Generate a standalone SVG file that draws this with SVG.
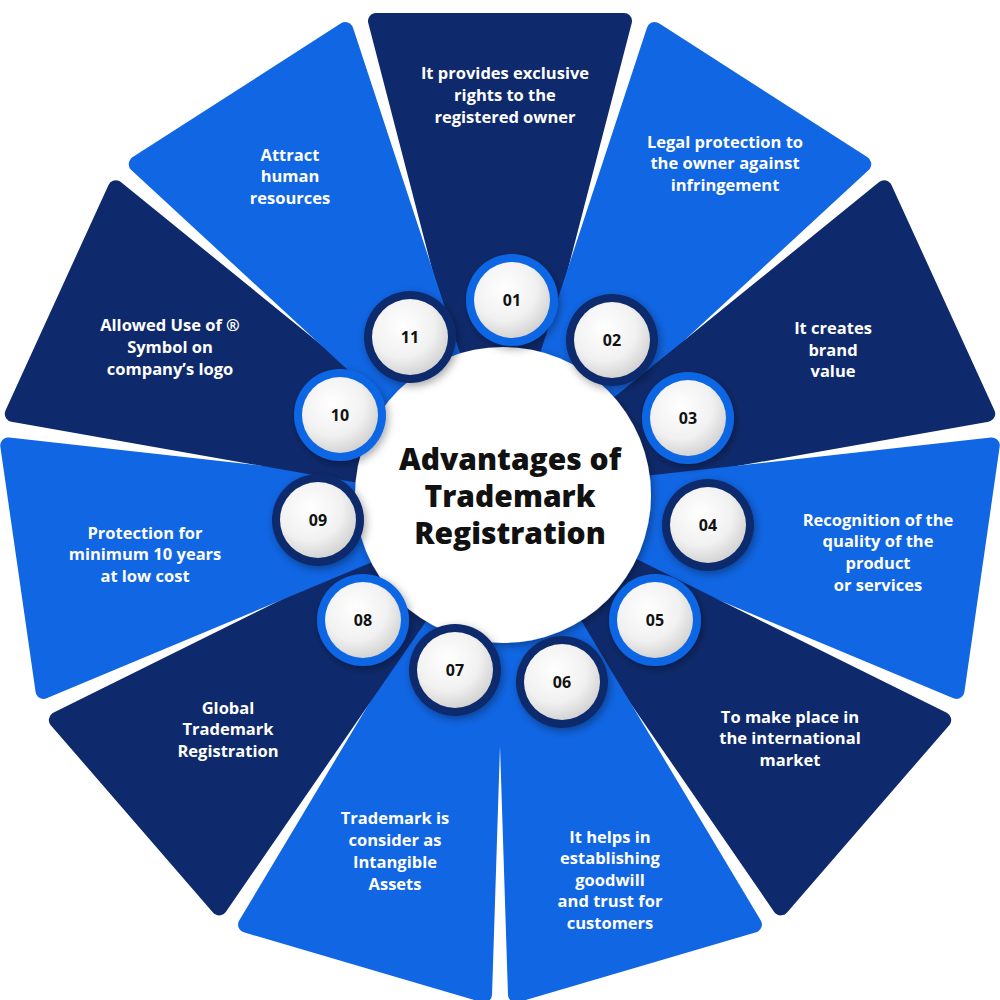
<svg xmlns="http://www.w3.org/2000/svg" xmlns:xlink="http://www.w3.org/1999/xlink" width="1000" height="1000" viewBox="0 0 1000 1000">
<style>
.d{fill:#0f2a6c;stroke:#0f2a6c}
.b{fill:#1166e4;stroke:#1166e4}
.seg{stroke-width:16;stroke-linejoin:round}
.t{font-family:"Open Sans","Liberation Sans",sans-serif;font-weight:700;font-size:16.5px;fill:#fff;text-anchor:middle}
.n{font-family:"Open Sans","Liberation Sans",sans-serif;font-weight:700;font-size:16px;fill:#111;text-anchor:middle;dominant-baseline:central}
.c{font-family:"Open Sans","Liberation Sans",sans-serif;font-weight:800;font-size:30px;fill:#111;text-anchor:middle}
.rd{fill:#0f2a6c}.rb{fill:#1166e4}
.in{fill:url(#g)}
</style>
<defs>
<path id="s" d="M-25,-97 L-124,-479 L124,-479 L25,-97 Z"/>
<radialGradient id="g" cx="0.4" cy="0.35" r="0.7"><stop offset="0" stop-color="#ffffff"/><stop offset="0.6" stop-color="#f1f1f1"/><stop offset="1" stop-color="#cfcfcf"/></radialGradient>
<filter id="sh" x="-30%" y="-30%" width="160%" height="160%"><feDropShadow dx="2" dy="3" stdDeviation="4" flood-color="#000" flood-opacity="0.35"/></filter>
<g id="k"><circle r="46" filter="url(#sh)"/></g>
</defs>
<g id="seg01"><use xlink:href="#s" class="d seg" transform="translate(500,500) rotate(0)"/><text class="t"><tspan x="505" y="79">It provides exclusive</tspan><tspan x="505" y="101">rights to the</tspan><tspan x="505" y="123">registered owner</tspan></text></g>
<g id="seg02"><use xlink:href="#s" class="b seg" transform="translate(500,500) rotate(32.727)"/><text class="t"><tspan x="725" y="148">Legal protection to</tspan><tspan x="725" y="169">the owner against</tspan><tspan x="725" y="191">infringement</tspan></text></g>
<g id="seg03"><use xlink:href="#s" class="d seg" transform="translate(500,500) rotate(65.454)"/><text class="t"><tspan x="833" y="334">It creates</tspan><tspan x="833" y="356">brand</tspan><tspan x="833" y="377">value</tspan></text></g>
<g id="seg04"><use xlink:href="#s" class="b seg" transform="translate(500,500) rotate(98.181)"/><text class="t"><tspan x="878" y="526">Recognition of the</tspan><tspan x="878" y="547">quality of the</tspan><tspan x="878" y="569">product</tspan><tspan x="878" y="591">or services</tspan></text></g>
<g id="seg05"><use xlink:href="#s" class="d seg" transform="translate(500,500) rotate(130.909)"/><text class="t"><tspan x="790" y="723">To make place in</tspan><tspan x="790" y="744">the international</tspan><tspan x="790" y="766">market</tspan></text></g>
<g id="seg06"><use xlink:href="#s" class="b seg" transform="translate(500,500) rotate(163.636)"/><text class="t"><tspan x="610" y="843">It helps in</tspan><tspan x="610" y="864">establishing</tspan><tspan x="610" y="886">goodwill</tspan><tspan x="610" y="907">and trust for</tspan><tspan x="610" y="929">customers</tspan></text></g>
<g id="seg07"><use xlink:href="#s" class="b seg" transform="translate(500,500) rotate(196.363)"/><text class="t"><tspan x="395" y="824">Trademark is</tspan><tspan x="395" y="846">consider as</tspan><tspan x="395" y="868">Intangible</tspan><tspan x="395" y="890">Assets</tspan></text></g>
<g id="seg08"><use xlink:href="#s" class="d seg" transform="translate(500,500) rotate(229.090)"/><text class="t"><tspan x="228" y="714">Global</tspan><tspan x="228" y="735">Trademark</tspan><tspan x="228" y="757">Registration</tspan></text></g>
<g id="seg09"><use xlink:href="#s" class="b seg" transform="translate(500,500) rotate(261.818)"/><text class="t"><tspan x="145" y="539">Protection for</tspan><tspan x="145" y="560">minimum 10 years</tspan><tspan x="145" y="582">at low cost</tspan></text></g>
<g id="seg10"><use xlink:href="#s" class="d seg" transform="translate(500,500) rotate(294.545)"/><text class="t"><tspan x="170" y="331">Allowed Use of ®</tspan><tspan x="170" y="353">Symbol on</tspan><tspan x="170" y="375">company’s logo</tspan></text></g>
<g id="seg11"><use xlink:href="#s" class="b seg" transform="translate(500,500) rotate(327.272)"/><text class="t"><tspan x="290" y="161">Attract</tspan><tspan x="290" y="182">human</tspan><tspan x="290" y="204">resources</tspan></text></g>
<g id="center"><circle cx="503" cy="495" r="148" fill="#fff" filter="url(#sh)"/><text class="c"><tspan x="510" y="470">Advantages of</tspan><tspan x="510" y="507">Trademark</tspan><tspan x="510" y="544">Registration</tspan></text></g>
<g id="n11"><use xlink:href="#k" class="rd" x="410" y="337"/><circle class="in" cx="410" cy="337" r="38"/><text class="n" x="410" y="337">11</text></g>
<g id="n10"><use xlink:href="#k" class="rb" x="340" y="415"/><circle class="in" cx="340" cy="415" r="38"/><text class="n" x="340" y="415">10</text></g>
<g id="n09"><use xlink:href="#k" class="rd" x="318" y="520"/><circle class="in" cx="318" cy="520" r="38"/><text class="n" x="318" y="520">09</text></g>
<g id="n08"><use xlink:href="#k" class="rb" x="363" y="620"/><circle class="in" cx="363" cy="620" r="38"/><text class="n" x="363" y="620">08</text></g>
<g id="n07"><use xlink:href="#k" class="rd" x="455" y="670"/><circle class="in" cx="455" cy="670" r="38"/><text class="n" x="455" y="670">07</text></g>
<g id="n06"><use xlink:href="#k" class="rd" x="562" y="682"/><circle class="in" cx="562" cy="682" r="38"/><text class="n" x="562" y="682">06</text></g>
<g id="n05"><use xlink:href="#k" class="rb" x="655" y="620"/><circle class="in" cx="655" cy="620" r="38"/><text class="n" x="655" y="620">05</text></g>
<g id="n04"><use xlink:href="#k" class="rd" x="708" y="525"/><circle class="in" cx="708" cy="525" r="38"/><text class="n" x="708" y="525">04</text></g>
<g id="n03"><use xlink:href="#k" class="rb" x="688" y="418"/><circle class="in" cx="688" cy="418" r="38"/><text class="n" x="688" y="418">03</text></g>
<g id="n02"><use xlink:href="#k" class="rd" x="612" y="340"/><circle class="in" cx="612" cy="340" r="38"/><text class="n" x="612" y="340">02</text></g>
<g id="n01"><use xlink:href="#k" class="rb" x="512" y="300"/><circle class="in" cx="512" cy="300" r="38"/><text class="n" x="512" y="300">01</text></g>
<g id="connectors"/>
</svg>
